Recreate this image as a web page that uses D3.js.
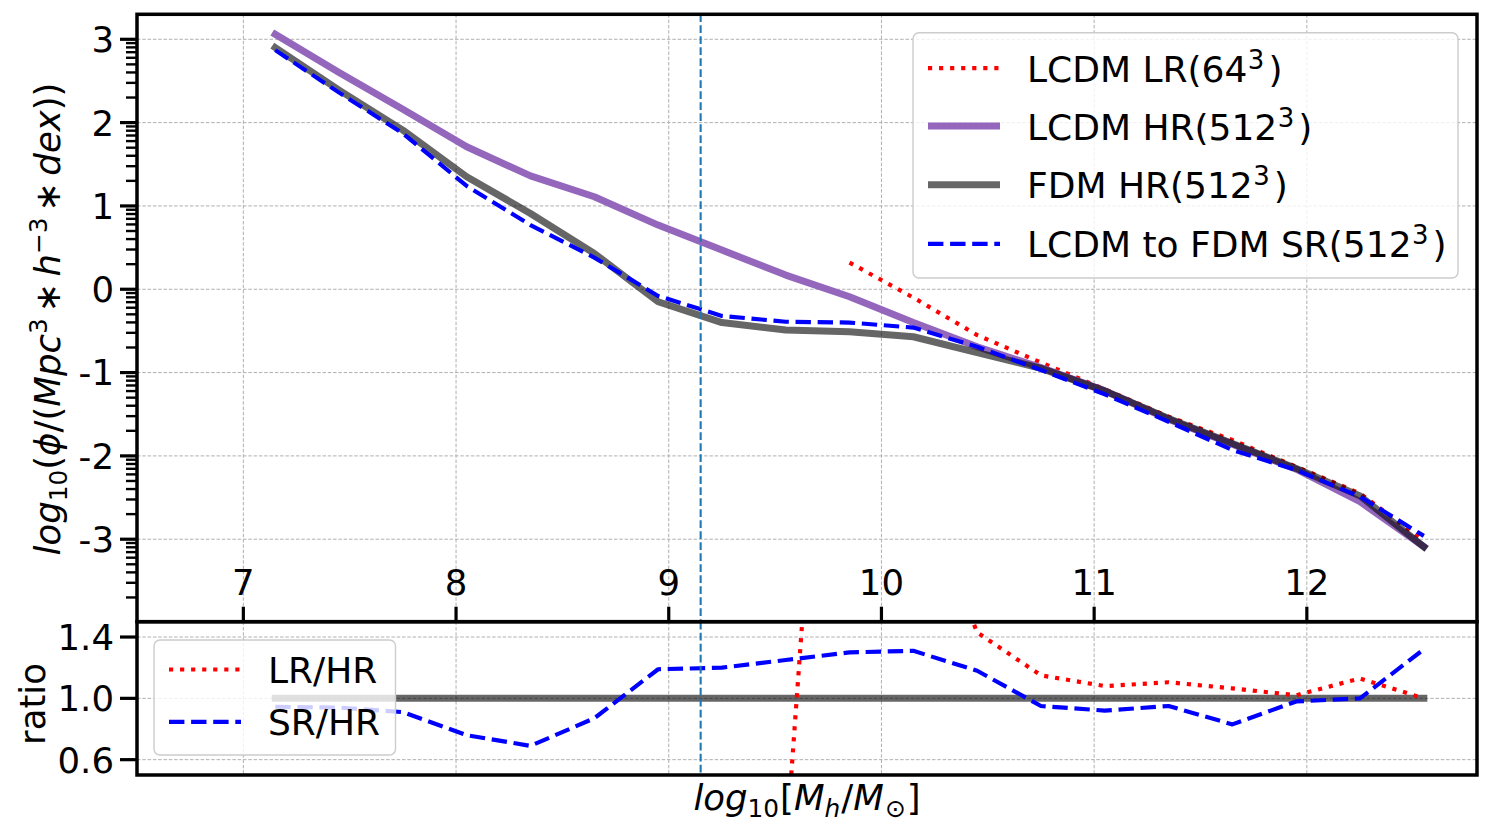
<!DOCTYPE html>
<html><head><meta charset="utf-8">
<script src="https://cdn.jsdelivr.net/npm/d3@7"></script>
<style>body{margin:0;background:#fff} svg{font-family:"DejaVu Sans",sans-serif}</style>
</head><body><svg id="c" width="1490" height="835"></svg>
<script>
// ---- data ----
const massBins = [7.15,7.45,7.75,8.05,8.35,8.65,8.95,9.25,9.55,9.85,10.15,10.45,10.75,11.05,11.35,11.65,11.95,12.25,12.55];
const lcdmHR = [3.06,2.60,2.16,1.71,1.36,1.11,0.77,0.47,0.17,-0.09,-0.40,-0.69,-0.94,-1.22,-1.56,-1.86,-2.16,-2.55,-3.09];
const fdmHR  = [2.90,2.39,1.91,1.35,0.91,0.43,-0.15,-0.40,-0.49,-0.51,-0.57,-0.76,-0.95,-1.22,-1.55,-1.85,-2.15,-2.48,-3.09];
const lcdmToFdmSR = [2.87,2.36,1.87,1.24,0.77,0.38,-0.08,-0.32,-0.39,-0.40,-0.46,-0.69,-0.97,-1.26,-1.59,-1.93,-2.17,-2.49,-2.96];
const lrBins = [9.85,10.15,10.45,10.75,11.05,11.35,11.65,11.95,12.25,12.55];
const lcdmLR = [0.32,-0.10,-0.55,-0.88,-1.20,-1.53,-1.81,-2.13,-2.45,-3.02];
const ratioLRBins = [9.55,9.85,10.15,10.45,10.75,11.05,11.35,11.65,11.95,12.25,12.55];
const ratioLR = [0.0,5.8,2.5,1.43,1.15,1.08,1.105,1.065,1.02,1.13,1.00];
const ratioSR = [0.945,0.94,0.91,0.76,0.69,0.87,1.19,1.20,1.25,1.30,1.31,1.18,0.95,0.92,0.95,0.83,0.98,1.00,1.32];
const ratioRef = [1.0,1.0];
const ratioRefBins = [7.15,12.55];
const xTicks = [7,8,9,10,11,12];
const yTicksMain = [-3,-2,-1,0,1,2,3];
const yTickLabelsMain = ["-3","-2","-1","0","1","2","3"];
const yTicksRatio = [0.6,1.0,1.4];
const yTickLabelsRatio = ["0.6","1.0","1.4"];
const cutMass = 9.15;
const legendMain = ["LCDM LR(64", "LCDM HR(512", "FDM HR(512", "LCDM to FDM SR(512"];
const legendRatio = ["LR/HR","SR/HR"];

// ---- layout ----
const svg = d3.select('#c');
const L=137,R=1477,T=14.3,MID=621.7,B=775;
const FS=35.5, SFS=24.8, LFS=36;
const x = d3.scaleLinear().domain([6.5,12.8]).range([L,R]);
const y = d3.scaleLinear().domain([-3.99,3.3]).range([MID,T]);
const yr = d3.scaleLinear().domain([0.5,1.5]).range([B,MID]);

const defs = svg.append('defs');
defs.append('clipPath').attr('id','cm').append('rect').attr('x',L).attr('y',T).attr('width',R-L).attr('height',MID-T);
defs.append('clipPath').attr('id','cr').append('rect').attr('x',L).attr('y',MID).attr('width',R-L).attr('height',B-MID);

const gridStyle = s => s.attr('stroke','#b0b0b0').attr('stroke-width',1).attr('stroke-dasharray','3.5,1.8');
// grids
const gm = svg.append('g');
xTicks.forEach(v=>{ gm.append('line').attr('x1',x(v)).attr('x2',x(v)).attr('y1',T).attr('y2',MID).call(gridStyle);
                    gm.append('line').attr('x1',x(v)).attr('x2',x(v)).attr('y1',MID).attr('y2',B).call(gridStyle);});
yTicksMain.forEach(v=>gm.append('line').attr('x1',L).attr('x2',R).attr('y1',y(v)).attr('y2',y(v)).call(gridStyle));
yTicksRatio.forEach(v=>gm.append('line').attr('x1',L).attr('x2',R).attr('y1',yr(v)).attr('y2',yr(v)).call(gridStyle));

const styles = {
  lr:  {stroke:'red', w:4.17, dash:'4.17,6.88', cap:'butt'},
  hr:  {stroke:'#9467bd', w:7, dash:null, cap:'square'},
  fdm: {stroke:'rgba(0,0,0,0.6)', w:7, dash:null, cap:'square'},
  sr:  {stroke:'blue', w:4.17, dash:'15.4,6.7', cap:'butt'}
};
function drawLine(g, xs, ys, ysc, st){
  const line = d3.line().x((d,i)=>x(xs[i])).y(d=>ysc(d));
  g.append('path').attr('d',line(ys)).attr('fill','none').attr('stroke',st.stroke)
   .attr('stroke-width',st.w).attr('stroke-dasharray',st.dash).attr('stroke-linecap',st.cap).attr('stroke-linejoin','round');
}
// main lines
const gMain = svg.append('g').attr('clip-path','url(#cm)');
drawLine(gMain, lrBins, lcdmLR, y, styles.lr);
drawLine(gMain, massBins, lcdmHR, y, styles.hr);
drawLine(gMain, massBins, fdmHR, y, styles.fdm);
drawLine(gMain, massBins, lcdmToFdmSR, y, styles.sr);
gMain.append('line').attr('x1',x(cutMass)).attr('x2',x(cutMass)).attr('y1',T).attr('y2',MID)
  .attr('stroke','#1f77b4').attr('stroke-width',2.1).attr('stroke-dasharray','7.7,3.3');
// ratio lines
const gR = svg.append('g').attr('clip-path','url(#cr)');
drawLine(gR, ratioRefBins, ratioRef, yr, {stroke:'rgba(0,0,0,0.6)', w:7, dash:null, cap:'square'});
drawLine(gR, ratioLRBins, ratioLR, yr, styles.lr);
drawLine(gR, massBins, ratioSR, yr, styles.sr);
gR.append('line').attr('x1',x(cutMass)).attr('x2',x(cutMass)).attr('y1',MID).attr('y2',B)
  .attr('stroke','#1f77b4').attr('stroke-width',2.1).attr('stroke-dasharray','7.7,3.3');

// legends
function legend(x0,y0,w,h,items,baselines,supers){
  const g = svg.append('g');
  g.append('rect').attr('x',x0).attr('y',y0).attr('width',w).attr('height',h).attr('rx',6)
   .attr('fill','rgba(255,255,255,0.8)').attr('stroke','#cccccc').attr('stroke-width',1.4);
  items.forEach((it,i)=>{
    const by = baselines[i], ly = by-13.5;
    g.append('path').attr('d',`M${x0+15},${ly}H${x0+87}`).attr('fill','none').attr('stroke',it.st.stroke)
      .attr('stroke-width',it.st.w).attr('stroke-dasharray',it.st.dash).attr('stroke-linecap','butt');
    const t = g.append('text').attr('x',x0+114).attr('y',by).attr('font-size',LFS);
    t.append('tspan').text(it.label);
    if(supers){ t.append('tspan').attr('font-size',26).attr('dy',-13).attr('dx',0.5).text('3'); t.append('tspan').attr('dy',13).attr('dx',4).text(')'); }
  });
}
legend(913,32.7,545,245.3,[
  {label:legendMain[0],st:styles.lr},{label:legendMain[1],st:styles.hr},
  {label:legendMain[2],st:styles.fdm},{label:legendMain[3],st:styles.sr}],[81.7,139.5,198.3,257.3],true);
legend(154,640,241.5,115,[{label:legendRatio[0],st:styles.lr},{label:legendRatio[1],st:styles.sr}],[683,735.3],false);

// frames
svg.append('rect').attr('x',L).attr('y',T).attr('width',R-L).attr('height',MID-T).attr('fill','none').attr('stroke','#000').attr('stroke-width',3.5);
svg.append('rect').attr('x',L).attr('y',MID).attr('width',R-L).attr('height',B-MID).attr('fill','none').attr('stroke','#000').attr('stroke-width',3.5);

// ticks
const gt = svg.append('g').attr('stroke','#000');
yTicksMain.forEach(v=>gt.append('line').attr('x1',L-17).attr('x2',L).attr('y1',y(v)).attr('y2',y(v)).attr('stroke-width',3.2));
const minor=[];
for(let n=-4;n<=3;n++) for(let k=2;k<=9;k++){const v=n+Math.log10(k); if(v>-3.99&&v<3.3) minor.push(v);}
minor.forEach(v=>gt.append('line').attr('x1',L-11).attr('x2',L).attr('y1',y(v)).attr('y2',y(v)).attr('stroke-width',2.4));
yTicksRatio.forEach(v=>gt.append('line').attr('x1',L-17).attr('x2',L).attr('y1',yr(v)).attr('y2',yr(v)).attr('stroke-width',3.2));
xTicks.forEach(v=>gt.append('line').attr('x1',x(v)).attr('x2',x(v)).attr('y1',MID).attr('y2',MID-15).attr('stroke-width',3.2));

const gl = svg.append('g').attr('font-size',FS).attr('fill','#000');
yTicksMain.forEach((v,i)=>gl.append('text').attr('x',114).attr('y',y(v)+12.9).attr('text-anchor','end').text(yTickLabelsMain[i]));
yTicksRatio.forEach((v,i)=>gl.append('text').attr('x',114).attr('y',yr(v)+12.9).attr('text-anchor','end').text(yTickLabelsRatio[i]));
xTicks.forEach(v=>gl.append('text').attr('x',x(v)).attr('y',595).attr('text-anchor','middle').text(v));

// axis labels
function math(t, parts){
  parts.forEach(p=>{
    const s=t.append('tspan').text(p.t);
    if(p.i) s.attr('font-style','italic');
    if(p.s) s.attr('font-size',SFS);
    if(p.dy) s.attr('dy',p.dy);
    if(p.dx) s.attr('dx',p.dx);
  });
}
const yl = svg.append('text').attr('transform','translate(60,319) rotate(-90)').attr('text-anchor','middle').attr('font-size',FS);
math(yl,[{t:'log',i:1},{t:'10',s:1,dy:7},{t:'(',dy:-7},{t:'ϕ',i:1},{t:'/('},{t:'Mpc',i:1},{t:'3',s:1,dy:-13},
  {t:'∗',dy:13,dx:6},{t:'h',i:1,dx:6},{t:'−3',s:1,dy:-13},{t:'∗',dy:13,dx:6},{t:'dex',i:1,dx:6},{t:'))'}]);
svg.append('text').attr('transform','translate(45,704) rotate(-90)').attr('text-anchor','middle').attr('font-size',FS).text('ratio');
const xl = svg.append('text').attr('x',807).attr('y',810).attr('text-anchor','middle').attr('font-size',FS);
math(xl,[{t:'log',i:1},{t:'10',s:1,dy:7},{t:'[',dy:-7,dx:1},{t:'M',i:1},{t:'h',i:1,s:1,dy:7},{t:'/',dy:-7,dx:1},{t:'M',i:1},{t:'⊙',s:1,dy:7,dx:1},{t:']',dy:-7,dx:1}]);
</script></body></html>
